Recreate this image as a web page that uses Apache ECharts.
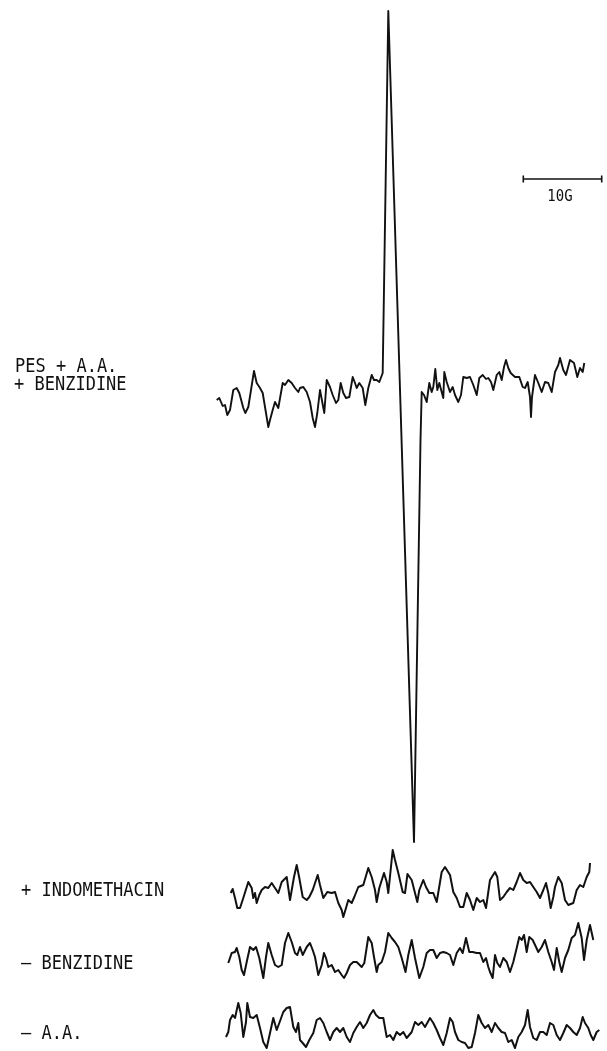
<!DOCTYPE html>
<html>
<head>
<meta charset="utf-8">
<script src="https://cdn.jsdelivr.net/npm/echarts@6/dist/echarts.min.js"></script>
<style>
html,body{margin:0;padding:0;background:#fff;}
#chart{width:607px;height:1051px;}
</style>
</head>
<body>
<div id="chart"></div>
<script>
// ---- data: [field position, signal amplitude relative to each trace's baseline] ----
const tracePesAaBenzidine = [
  [216.7,-15],[219.3,-13],[222.7,-21],[225,-20],[227.3,-30],[230,-25],[233.3,-5],[236.7,-3],[239.3,-8],
  [243.3,-23],[245.3,-28],[248.3,-22],[250.7,-7],[254,14],[256.7,2],[260,-3],[262.7,-8],[265,-22],
  [268.3,-42],[270,-35],[272.7,-25],[275,-17],[278.3,-23],[282.7,2],[285,0],[288.3,5],[291.7,2],
  [295,-3],[298.3,-7],[300,-3],[303.3,-2],[306.7,-7],[310,-17],[312.7,-33],[315,-42],[317.3,-28],
  [320,-5],[321.7,-7],[324.3,-28],[326.7,5],[330,-2],[332.7,-10],[336,-18],[338.3,-15],[340.7,2],
  [343.3,-8],[346,-13],[349.3,-12],[352.7,8],[355,2],[356.7,-3],[359.3,2],[362.7,-3],[365.3,-20],
  [368.3,-3],[371.7,10],[374,5],[376.7,5],[379.3,3],[382.7,12],[383,13],
  [388.3,374],[414,-457],[420.5,-55],[421.7,-7],
  [424,-10],[426.7,-17],[429.3,2],[431.7,-7],[433.3,-2],[435.3,16],[437.3,-5],[439.3,2],[441.7,-7],
  [443.3,-13],[444.3,13],[446.7,3],[450,-7],[452.7,-2],[455,-10],[458.3,-17],[461,-10],[463.3,8],
  [466.7,7],[470,8],[473.3,0],[476.7,-10],[479.3,7],[482.7,10],[486,6],[488.3,7],[491,3],[493.3,-5],
  [496.7,10],[499.3,13],[501.7,5],[504,18],[506,25],[508.3,17],[510.7,12],[515,8],[519.3,8],
  [522.7,-2],[525,-3],[527.7,3],[530,-12],[531,-32],[532,-12],[535,10],[538.3,2],[541.7,-7],
  [545,3],[548.3,2],[551.7,-7],[555,13],[558.3,20],[560,27],[563.3,15],[566,10],[570,25],[574,22],
  [577.3,8],[580,17],[582.7,13],[584.3,22]
];
const traceIndomethacin = [
  [230.7,-3],[232.7,1],[235,-8],[237.3,-18],[240,-18],[243.3,-8],[248.3,8],[251.7,2],[253.3,-8],
  [255,-3],[256.7,-13],[259.3,-5],[261.7,0],[265,3],[268.3,2],[271.7,7],[275,2],[278.3,-3],[281.7,8],
  [286.7,13],[288.3,15],[290,-10],[294,13],[296.7,25],[299.3,12],[302.7,-7],[306.7,-10],[309.3,-7],
  [312.7,0],[317.7,15],[320,5],[323.3,-8],[327.3,-2],[331.7,-3],[335,-2],[338.3,-13],[341.7,-20],
  [343.3,-27],[346,-18],[348.3,-10],[351.7,-13],[354.3,-7],[358.3,3],[363.3,5],[368.3,22],[371.7,13],
  [375,0],[376.7,-12],[379.3,2],[384,17],[386.7,8],[388.3,-3],[392.7,40],[395,30],[398.3,17],
  [402.7,-2],[405,-3],[407.5,16],[411.7,10],[415,-3],[417.3,-12],[419.3,0],[423.3,10],[426,3],
  [429.3,-3],[433.3,-3],[436.7,-12],[441.7,18],[445,23],[450,15],[453.3,-2],[456.7,-8],[460,-17],
  [463.3,-17],[466.7,-3],[470,-10],[473.3,-20],[476.7,-8],[480,-12],[483.3,-10],[486,-18],[490,10],
  [495,18],[497.3,13],[500,-10],[503.3,-7],[506.7,-2],[510,2],[513.3,0],[516.7,8],[520,17],[523.3,10],
  [526.7,7],[530,8],[533.3,3],[536.7,-2],[540,-8],[543.3,0],[546,7],[548.3,-3],[550.7,-18],[553.3,-7],
  [555,3],[558.3,13],[561.7,7],[565,-10],[568.3,-15],[573.3,-13],[576.7,0],[580,5],[583.3,3],
  [586.7,13],[589.3,18],[590,27]
];
const traceMinusBenzidine = [
  [228.3,-8],[231.7,2],[235,3],[236.7,7],[239.3,-2],[241.7,-15],[244,-20],[246.7,-7],[250,8],[253.3,5],
  [256,8],[259.3,-3],[263.3,-23],[266,-2],[268.3,12],[271.7,0],[275,-10],[278.3,-12],[281.7,-10],
  [285,12],[288.3,22],[291.7,13],[295,2],[297.3,0],[300,8],[302.7,0],[306.7,8],[310,12],[312.7,5],
  [315,-2],[318.3,-20],[321.7,-10],[324,2],[326,-3],[328.3,-12],[331.7,-10],[335,-17],[338.3,-15],
  [341.7,-20],[344,-23],[346.7,-18],[350,-10],[353.3,-7],[356.7,-7],[361.7,-12],[364.3,-8],[368.3,18],
  [371.7,12],[374,-2],[376.7,-17],[378.3,-10],[381.7,-7],[385,3],[388.3,22],[391.7,17],[395,13],
  [398.3,8],[401.7,-3],[405.5,-17],[408.3,0],[411.7,15],[415,-3],[419.3,-23],[423.3,-12],[426.7,2],
  [430,5],[433.3,5],[436.7,-3],[440,2],[443.3,3],[446.7,2],[450,0],[453.3,-10],[456.7,2],[460,7],
  [462.7,2],[466,17],[469.3,3],[472.7,3],[476.7,2],[480,2],[483.3,-7],[486,-3],[488.3,-12],[490,-17],
  [492.7,-23],[495,0],[497.3,-8],[500,-12],[503.3,-3],[506.7,-7],[510,-17],[513.3,-7],[516.7,7],
  [519.3,18],[521.7,15],[524,20],[526.7,3],[529.3,18],[532.7,15],[536,8],[538.3,3],[541.7,8],[545,15],
  [548.3,3],[551.7,-7],[554,-15],[556.7,7],[559.3,-7],[561.7,-17],[565,-3],[568.3,5],[571.7,17],
  [575,20],[578.3,32],[581.7,17],[584,-5],[586.7,15],[590,30],[593.3,15]
];
const traceMinusAA = [
  [226,-9],[228.3,-4],[230,8],[232.7,13],[235,10],[238.3,25],[240.7,15],[243.3,-9],[246,6],[247.3,25],
  [250,11],[253.3,10],[256.7,13],[260,0],[263.3,-14],[266.7,-20],[270,-5],[273.3,10],[276.7,-2],
  [279.3,5],[283.3,16],[286.7,20],[290,21],[293.3,1],[296,-4],[298.3,5],[300,-12],[302.7,-15],
  [306,-19],[309.3,-12],[313.3,-5],[316.7,8],[320,10],[323.3,5],[326.7,-4],[330,-12],[333.3,-4],
  [336.7,0],[340,-4],[343.3,0],[346.7,-9],[350,-14],[353.3,-5],[356.7,1],[360,6],[363.3,0],[366.7,5],
  [370,13],[373.3,18],[376,13],[379.3,10],[383.3,10],[386.7,-9],[390,-7],[393.3,-12],[396.7,-4],
  [400,-7],[403.3,-4],[406.7,-10],[411.7,-4],[415,6],[418.3,3],[421.7,6],[425,1],[430,10],[433.3,5],
  [436.7,-2],[440,-10],[443.3,-17],[446.7,-5],[450,10],[452.7,6],[455,-4],[458.3,-12],[461.7,-14],
  [465,-15],[468.3,-20],[471.7,-19],[475,-5],[478.3,13],[481.7,5],[485,0],[488.3,3],[491.7,-4],
  [495,5],[498.3,0],[501.7,-4],[505,-5],[508.3,-14],[511.7,-12],[515,-20],[518.3,-9],[521.7,-4],
  [525,3],[527.7,18],[530,1],[533.3,-10],[536.7,-12],[540,-4],[543.3,-4],[546.7,-7],[550,5],[553.3,3],
  [556.7,-7],[560,-12],[563.3,-5],[566.7,3],[570,0],[573.3,-4],[576.7,-7],[580,0],[582.7,11],[585,5],
  [588.3,0],[590.7,-7],[593.3,-12],[596.7,-4],[599.3,-2]
];
// 10 G scale bar (in the top trace's coordinates)
const scaleBar10G = [[523.3,206],[601.7,206]];
const traceLabels = ['PES + A.A.', '+ BENZIDINE', '+ INDOMETHACIN', '— BENZIDINE', '— A.A.'];
const scaleLabel = '10G';

// ---- layout: each trace gets its own full-page grid; the y range places its baseline ----
const W = 607, H = 1051;
const baselines = [385, 890, 955, 1028];
const traces = [tracePesAaBenzidine, traceIndomethacin, traceMinusBenzidine, traceMinusAA];
const ink = '#111';

const grids = [], xAxes = [], yAxes = [], series = [];
traces.forEach((t, i) => {
  grids.push({left: 0, right: 0, top: 0, bottom: 0});
  xAxes.push({type: 'value', gridIndex: i, min: 0, max: W, show: false});
  yAxes.push({type: 'value', gridIndex: i, min: baselines[i] - H, max: baselines[i], show: false});
  series.push({
    type: 'line', xAxisIndex: i, yAxisIndex: i, data: t,
    showSymbol: false, symbol: 'none', silent: true,
    lineStyle: {color: ink, width: i === 0 ? 1.9 : 2, join: 'round'}
  });
});
series.push({
  type: 'line', xAxisIndex: 0, yAxisIndex: 0, data: scaleBar10G,
  symbol: 'rect', symbolSize: [1.6, 7], showSymbol: true, silent: true,
  itemStyle: {color: ink}, lineStyle: {color: ink, width: 1.6}
});

const font = '17px "DejaVu Sans Mono", monospace';
const textEl = (txt, x, y, f, sy) => ({
  type: 'text', x: x, y: y, scaleY: sy || 1.14, silent: true,
  style: {text: txt, font: f || font, fill: ink, align: 'left', verticalAlign: 'middle',
          textAlign: 'left', textVerticalAlign: 'middle'}
});

const chart = echarts.init(document.getElementById('chart'), null, {renderer: 'canvas'});
chart.setOption({
  animation: false,
  backgroundColor: '#fff',
  grid: grids, xAxis: xAxes, yAxis: yAxes, series: series,
  graphic: [
    textEl(traceLabels[0], 15, 367),
    textEl(traceLabels[1], 14, 385),
    textEl(traceLabels[2], 21, 891),
    textEl(traceLabels[3], 21, 964),
    textEl(traceLabels[4], 21, 1034),
    {type: 'text', x: 560, y: 197, scaleY: 1.1, silent: true,
     style: {text: scaleLabel, font: '14px "DejaVu Sans Mono", monospace', fill: ink,
             align: 'center', verticalAlign: 'middle', textAlign: 'center', textVerticalAlign: 'middle'}}
  ]
});
</script>
</body>
</html>
